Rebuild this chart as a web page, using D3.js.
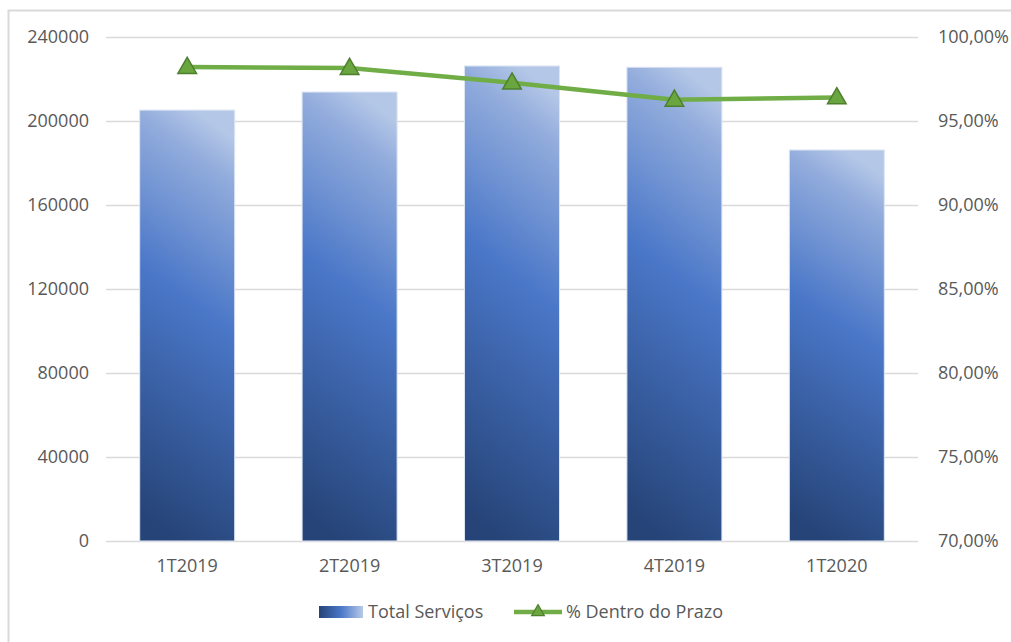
<!DOCTYPE html>
<html>
<head>
<meta charset="utf-8">
<script src="https://cdn.jsdelivr.net/npm/d3@7"></script>
<style>
  body { margin: 0; background: #fff; }
  text { font-family: "Open Sans", sans-serif; fill: #595959; }
</style>
</head>
<body>
<div id="chart"></div>
<script>
// data
var categories = ["1T2019", "2T2019", "3T2019", "4T2019", "1T2020"];
var totalServicos = [205200, 213800, 226200, 225600, 186200];
var pctDentroPrazo = [98.21, 98.15, 97.28, 96.26, 96.40];
var leftTicks = [0, 40000, 80000, 120000, 160000, 200000, 240000];
var rightTicks = [70, 75, 80, 85, 90, 95, 100];

var W = 1011, H = 642;
var margin = {top: 37, right: 93, bottom: 101, left: 106};
var width = W - margin.left - margin.right;
var height = H - margin.top - margin.bottom;
var fontSize = "18px";

var svg = d3.select("#chart").append("svg")
  .attr("width", W)
  .attr("height", H);

// outer frame (cropped at right / bottom)
svg.append("rect")
  .attr("x", 8.5).attr("y", 10.5)
  .attr("width", W + 20).attr("height", H + 20)
  .attr("fill", "none")
  .attr("stroke", "#d9d9d9")
  .attr("stroke-width", 2);

var defs = svg.append("defs");
var grad = defs.append("linearGradient")
  .attr("id", "barGrad")
  .attr("x1", 0.42).attr("y1", 1).attr("x2", 0.58).attr("y2", 0);
grad.append("stop").attr("offset", 0).attr("stop-color", "#264478");
grad.append("stop").attr("offset", 0.56).attr("stop-color", "#4a77c8");
grad.append("stop").attr("offset", 0.9).attr("stop-color", "#92acdc");
grad.append("stop").attr("offset", 1).attr("stop-color", "#b4c7e7");

var legGrad = defs.append("linearGradient")
  .attr("id", "legGrad")
  .attr("x1", 0).attr("y1", 0).attr("x2", 1).attr("y2", 0);
legGrad.append("stop").attr("offset", 0).attr("stop-color", "#264478");
legGrad.append("stop").attr("offset", 0.5).attr("stop-color", "#4a77c8");
legGrad.append("stop").attr("offset", 1).attr("stop-color", "#b7c9e8");

var g = svg.append("g")
  .attr("transform", "translate(" + margin.left + "," + margin.top + ")");

var x = d3.scaleBand().domain(categories).range([0, width]).paddingInner(0.415).paddingOuter(0.2075);
var y = d3.scaleLinear().domain([0, 240000]).range([height, 0]);
var y2 = d3.scaleLinear().domain([70, 100]).range([height, 0]);

// gridlines
g.append("g")
  .selectAll("line")
  .data(leftTicks)
  .enter().append("line")
  .attr("x1", 0).attr("x2", width)
  .attr("y1", function(d) { return Math.round(y(d)) + 0.5; })
  .attr("y2", function(d) { return Math.round(y(d)) + 0.5; })
  .attr("stroke", "#d9d9d9")
  .attr("stroke-width", 1.3);

// left axis
var axL = g.append("g")
  .call(d3.axisLeft(y).tickValues(leftTicks).tickSize(0).tickPadding(17).tickFormat(d3.format("d")));
axL.select(".domain").remove();
axL.selectAll("text").style("font-size", fontSize).attr("fill", "#595959");

// right axis
var axR = g.append("g")
  .attr("transform", "translate(" + width + ",0)")
  .call(d3.axisRight(y2).tickValues(rightTicks).tickSize(0).tickPadding(20)
    .tickFormat(function(d) { return d.toFixed(2).replace(".", ",") + "%"; }));
axR.select(".domain").remove();
axR.selectAll("text").style("font-size", fontSize).attr("fill", "#595959");

// bottom axis
var axB = g.append("g")
  .attr("transform", "translate(0," + height + ")")
  .call(d3.axisBottom(x).tickSize(0).tickPadding(18));
axB.select(".domain").remove();
axB.selectAll("text").style("font-size", fontSize).attr("fill", "#595959");

// bars
g.append("g")
  .selectAll("rect")
  .data(totalServicos)
  .enter().append("rect")
  .attr("x", function(d, i) { return x(categories[i]); })
  .attr("y", function(d) { return y(d); })
  .attr("width", x.bandwidth())
  .attr("height", function(d) { return height - y(d); })
  .attr("fill", "url(#barGrad)")
  .attr("stroke", "#dce5f4")
  .attr("stroke-width", 1);

// line
var line = d3.line()
  .x(function(d, i) { return x(categories[i]) + x.bandwidth() / 2; })
  .y(function(d) { return y2(d); });

g.append("path")
  .datum(pctDentroPrazo)
  .attr("d", line)
  .attr("fill", "none")
  .attr("stroke", "#70ad47")
  .attr("stroke-width", 4.5)
  .attr("stroke-linejoin", "round");

var tri = d3.symbol().type(d3.symbolTriangle).size(150);
g.append("g")
  .selectAll("path")
  .data(pctDentroPrazo)
  .enter().append("path")
  .attr("d", tri)
  .attr("transform", function(d, i) {
    return "translate(" + (x(categories[i]) + x.bandwidth() / 2) + "," + (y2(d) + 1) + ")";
  })
  .attr("fill", "#6aa63f")
  .attr("stroke", "#4e7f2f")
  .attr("stroke-width", 1.5);

// legend
var leg = svg.append("g").attr("transform", "translate(0,612)");
leg.append("rect")
  .attr("x", 319).attr("y", -6).attr("width", 44).attr("height", 12)
  .attr("fill", "url(#legGrad)");
leg.append("text")
  .attr("x", 368).attr("y", 0).attr("dy", "0.35em")
  .style("font-size", fontSize)
  .text("Total Serviços");
leg.append("line")
  .attr("x1", 514).attr("x2", 562).attr("y1", 0).attr("y2", 0)
  .attr("stroke", "#70ad47").attr("stroke-width", 4.5);
leg.append("path")
  .attr("d", d3.symbol().type(d3.symbolTriangle).size(70))
  .attr("transform", "translate(538,0)")
  .attr("fill", "#6aa63f")
  .attr("stroke", "#4e7f2f")
  .attr("stroke-width", 1.2);
leg.append("text")
  .attr("x", 566).attr("y", 0).attr("dy", "0.35em")
  .style("font-size", fontSize)
  .text("% Dentro do Prazo");
</script>
</body>
</html>
